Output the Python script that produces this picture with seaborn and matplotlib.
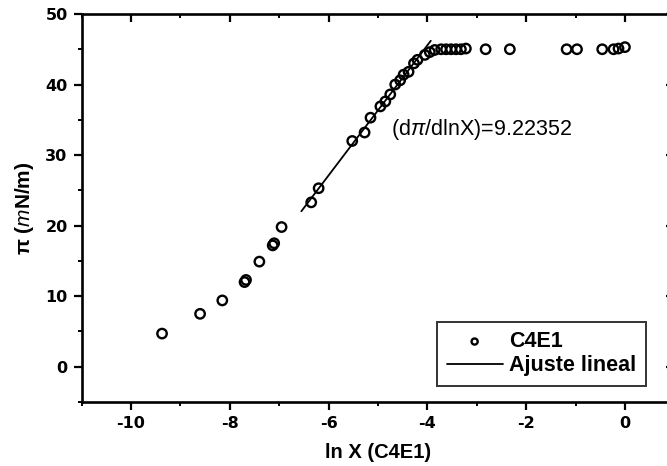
import numpy as np
import pandas as pd
import matplotlib
matplotlib.use("Agg")
import matplotlib.pyplot as plt
import seaborn as sns
from matplotlib.ticker import MultipleLocator

# ---- data ----
ln_x = [-9.37, -8.6, -8.15, -7.7, -7.67, -7.4, -7.13, -7.1, -6.95, -6.35, -6.2,
        -5.52, -5.27, -5.15, -4.95, -4.85, -4.75, -4.65, -4.55, -4.48, -4.38,
        -4.27, -4.2, -4.05, -3.95, -3.85, -3.72, -3.62, -3.52, -3.42, -3.32,
        -3.22, -2.82, -2.33, -1.18, -0.97, -0.46, -0.23, -0.13, 0.0]
pi_vals = [4.7, 7.5, 9.4, 12.0, 12.3, 14.9, 17.2, 17.5, 19.8, 23.3, 25.3,
           32.0, 33.2, 35.3, 36.9, 37.6, 38.6, 40.0, 40.6, 41.4, 41.8,
           43.0, 43.5, 44.2, 44.6, 44.9, 45.0, 45.0, 45.0, 45.0, 45.0,
           45.1, 45.0, 45.0, 45.0, 45.0, 45.0, 45.0, 45.1, 45.3]
fit_slope = 9.22352
fit_intercept = 82.45
fit_x_range = [-6.55, -3.93]
series_label = "C4E1"
fit_label = "Ajuste lineal"
x_ticks = [-10, -8, -6, -4, -2, 0]
y_ticks = [0, 10, 20, 30, 40, 50]

df = pd.DataFrame({"x": ln_x, "y": pi_vals})
fit_x = np.array(fit_x_range)
fit_df = pd.DataFrame({"x": fit_x, "y": fit_slope * fit_x + fit_intercept})

sns.set_style("ticks")
plt.rcParams["font.family"] = ["Liberation Sans", "DejaVu Sans"]
plt.rcParams["mathtext.fontset"] = "custom"
plt.rcParams["mathtext.rm"] = "Liberation Sans"
plt.rcParams["mathtext.it"] = "Liberation Sans:italic"
plt.rcParams["mathtext.bf"] = "Liberation Sans:bold"
plt.rcParams["axes.unicode_minus"] = False
plt.rcParams["text.color"] = "black"
plt.rcParams["axes.labelcolor"] = "black"
plt.rcParams["legend.labelcolor"] = "black"

fig = plt.figure(figsize=(6.67, 4.66), dpi=100)
ax = fig.add_axes([0.1222, 0.1373, 0.8888, 0.8327])

sns.scatterplot(data=df, x="x", y="y", ax=ax, marker="o", s=46,
                facecolor="none", edgecolor="black", linewidth=1.7,
                label=series_label, zorder=3)
sns.lineplot(data=fit_df, x="x", y="y", ax=ax, color="black", linewidth=1.3,
             label=fit_label, zorder=2)

ax.set_xlim(-11, 1)
ax.set_ylim(-5, 50)
ax.set_xticks(x_ticks)
ax.set_yticks(y_ticks)
ax.xaxis.set_minor_locator(MultipleLocator(1))
ax.yaxis.set_minor_locator(MultipleLocator(5))

for s in ax.spines.values():
    s.set_linewidth(1.9)
    s.set_color("black")

ax.tick_params(axis="both", which="major", direction="out", length=6, width=1.6,
               labelsize=11.5, colors="black", pad=4)
ax.tick_params(axis="both", which="minor", direction="out", length=3, width=1.4,
               colors="black")
ax.tick_params(top=True, right=True, which="both")
for t in ax.xaxis.get_major_ticks() + ax.xaxis.get_minor_ticks():
    t.tick2line.set_marker(matplotlib.lines.TICKDOWN)
for t in ax.yaxis.get_major_ticks() + ax.yaxis.get_minor_ticks():
    t.tick2line.set_marker(matplotlib.lines.TICKLEFT)
for lbl in ax.get_xticklabels() + ax.get_yticklabels():
    lbl.set_fontweight("bold")
    lbl.set_family("DejaVu Sans")
    lbl.set_color("black")

ax.set_xlabel("ln X (C4E1)", fontsize=14.5, fontweight="bold", labelpad=9,
              color="black")
ax.set_ylabel(r"$\mathbf{\pi}$ ($\mathbf{\mathit{m}}$N/m)", fontsize=15,
              fontweight="bold", labelpad=7, color="black")

ax.text(-4.74, 33.6, r"(d$\pi$/dlnX)=9.22352", fontsize=15.5, va="center",
        ha="left", color="black")

leg = ax.legend(loc="lower right", bbox_to_anchor=(0.952, 0.041), frameon=True,
                fancybox=False, edgecolor="black", fontsize=15.5,
                handlelength=2.6, handletextpad=0.3, borderpad=0.45,
                labelspacing=0.15, borderaxespad=0.0, markerscale=0.65)
leg.get_frame().set_linewidth(1.4)
for t in leg.get_texts():
    t.set_fontweight("bold")
    t.set_color("black")

fig.savefig("out.png", dpi=100)
